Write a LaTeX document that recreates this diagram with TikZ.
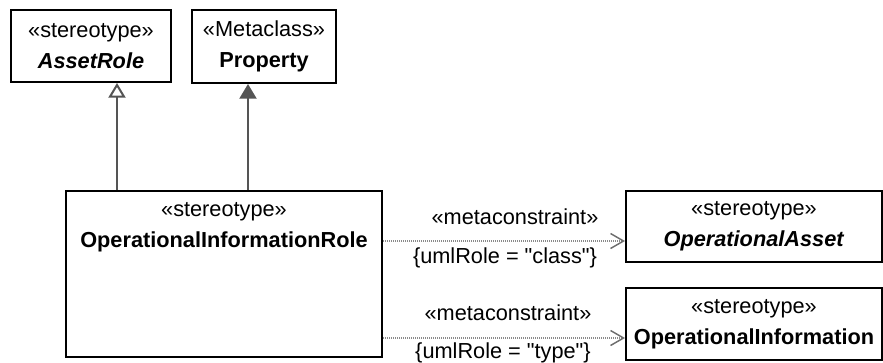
\documentclass[tikz,border=0pt]{standalone}
\usepackage{fontspec}
\setmainfont{Liberation Sans}[Ligatures=TeXOff]
\usetikzlibrary{arrows.meta,positioning}
\definecolor{linegray}{HTML}{555555}
\definecolor{dotgray}{HTML}{8A8A8A}
\begin{document}
\begin{tikzpicture}[x=0.75pt,y=-0.75pt,font=\fontsize{16.3}{23.3}\selectfont,
	umlbox/.style={draw,line width=1.5pt,rectangle,align=center,inner sep=0pt},
	gen/.style={draw=linegray,line width=1.5pt,-{Triangle[open,length=11pt,width=12.75pt,fill=white]}},
	ext/.style={draw=linegray,line width=1.5pt,-{Triangle[length=11pt,width=12.75pt,fill=linegray]}},
	meta/.style={draw=dotgray,line width=0.9pt,dash pattern=on 0.9pt off 0.6pt,-{Straight Barb[length=9.75pt,width=11.25pt,line width=1.1pt,color=linegray!85]}}]
	\useasboundingbox (0,0) rectangle (883,362);
	% metaclass and stereotypes
	\node[umlbox,minimum width=120pt,minimum height=54pt] (assetrole) at (91,46) {«stereotype»\\\textbf{\textit{AssetRole}}};
	\node[umlbox,minimum width=108pt,minimum height=54.75pt] (property) at (264,46.5) {«Metaclass»\\\textbf{Property}};
	\node[umlbox,minimum width=237pt,minimum height=124.5pt] (role) at (224,274) {};
	\node[align=center] (roletext) at (224,227.5) {«stereotype»\\\textbf{OperationalInformationRole}};
	\node[umlbox,minimum width=192pt,minimum height=53.25pt] (asset) at (754,226.5) {«stereotype»\\\textbf{\textit{OperationalAsset}}};
	\node[umlbox,minimum width=192pt,minimum height=54pt] (info) at (754,324) {«stereotype»\\\textbf{OperationalInformation}};
	% connectors
	\coordinate (g1) at (117,0);
	\coordinate (g2) at (248,0);
	\draw[gen] (role.north -| g1) -- (assetrole.south -| g1);
	\draw[ext] (role.north -| g2) -- (property.south -| g2);
	\coordinate (m1) at (0,241);
	\coordinate (m2) at (0,338);
	\draw[meta] (role.east |- m1) -- (asset.west |- m1);
	\draw[meta] (role.east |- m2) -- (info.west |- m2);
	\node (st1) at (515,217) {«metaconstraint»};
	\node (tag1) at (505,258) {\{umlRole = "class"\}};
	\node (st2) at (508,313) {«metaconstraint»};
	\node (tag2) at (503,353) {\{umlRole = "type"\}};
\end{tikzpicture}
\end{document}
